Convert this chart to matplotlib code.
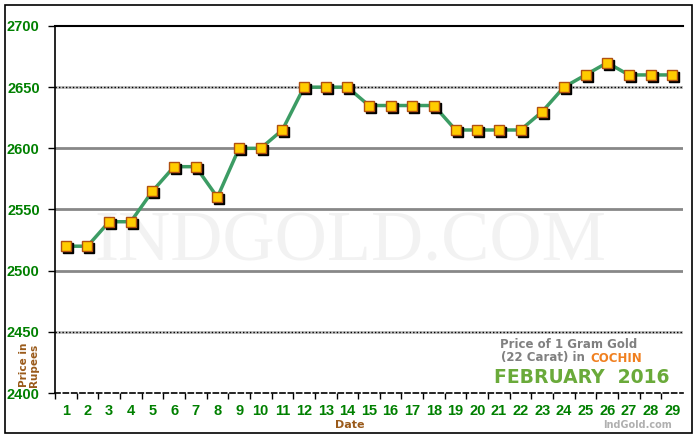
import matplotlib.pyplot as plt
import matplotlib.patches as patches
import matplotlib.transforms as mtransforms

# Dados: preço do ouro 22 quilates (Cochin), fevereiro 2016
days = list(range(1, 30))
prices = [2520, 2520, 2540, 2540, 2565, 2585, 2585, 2560, 2600, 2600,
          2615, 2650, 2650, 2650, 2635, 2635, 2635, 2635, 2615, 2615,
          2615, 2615, 2630, 2650, 2660, 2670, 2660, 2660, 2660]
y_ticks = [2400, 2450, 2500, 2550, 2600, 2650, 2700]

GREEN_TXT = '#008000'
BROWN = '#9a5a1a'
TICK_FONT = 'Liberation Sans'

fig = plt.figure(figsize=(7, 4.4), dpi=100)
fig.patches.append(patches.Rectangle((5 / 700, 1 - 433 / 440), 687 / 700, 428 / 440,
                                     transform=fig.transFigure, fill=False,
                                     ec='black', lw=1.2))

ax = fig.add_axes([55 / 700, 1 - 393 / 440, 628 / 700, 367 / 440])
ax.set_xlim(0.5, 29.5)
ax.set_ylim(2400, 2700)

# Marca d'água (atrás de tudo)
ax.text(350 / 700, 1 - 243 / 440, 'INDGOLD.COM', ha='center', va='center',
        fontsize=52, family='Liberation Serif', color='#f2f2f2', zorder=0.5,
        transform=fig.transFigure)

# Linhas de grade
for v in [2500, 2550, 2600]:
    ax.axhline(v, color='#888888', lw=2, zorder=1)
for v in [2450, 2650]:
    ax.axhline(v, color='#c0c0c0', lw=2, zorder=1)
    ax.axhline(v, color='black', lw=1, ls=(0, (1, 1.5)), zorder=1.1)

ax.spines['right'].set_visible(False)
ax.spines['top'].set_linewidth(1.5)
ax.spines['left'].set_linewidth(1.2)
ax.spines['bottom'].set_linestyle((0, (3, 2)))
ax.spines['bottom'].set_linewidth(1.2)

# Linha e marcadores (com sombra)
ax.plot(days, prices, color='#3c9c64', lw=2.5, zorder=3)
shadow = mtransforms.offset_copy(ax.transData, fig=fig, x=2, y=-2, units='dots')
ax.plot(days, prices, ls='none', marker='s', ms=6.5, color='black',
        transform=shadow, zorder=4)
ax.plot(days, prices, ls='none', marker='s', ms=6.5, mfc='#ffcc00',
        mec='#b05010', mew=1, zorder=5)

# Eixos
ax.set_yticks(y_ticks)
ax.set_yticklabels([str(v) for v in y_ticks], color=GREEN_TXT,
                   fontweight='bold', fontsize=10.5, family=TICK_FONT)
ax.tick_params(axis='y', length=5, width=1, pad=6)
ax.set_xticks([d + 0.5 for d in days[:-1]] + [0.5])
ax.set_xticklabels([])
ax.tick_params(axis='x', length=4, width=1)
lbl_tr = mtransforms.offset_copy(ax.transData, fig=fig, x=0, y=-11, units='dots')
for d in days:
    ax.text(d, 2400, str(d), transform=lbl_tr, ha='center', va='top',
            color=GREEN_TXT, fontweight='bold', fontsize=10.5, family=TICK_FONT,
            clip_on=False)

fig.text(350 / 700, 1 - 425 / 440, 'Date', ha='center', va='center',
         color=BROWN, fontweight='bold', fontsize=8)
fig.text(29 / 700, 1 - 365 / 440, 'Price in\nRupees', ha='center', va='center',
         rotation=90, color=BROWN, fontweight='bold', fontsize=7.5,
         linespacing=1.1)

# Caixa de legenda
ax.add_patch(patches.Rectangle((20.0, 2401), 9.45, 47, fc='white',
                               ec='none', zorder=6))
fig.text(569 / 700, 1 - 344 / 440, 'Price of 1 Gram Gold', ha='center',
         va='center', color='#808080', fontweight='bold', fontsize=8.5, zorder=7)
fig.text(589 / 700, 1 - 358 / 440, '(22 Carat) in ', ha='right', va='center',
         color='#808080', fontweight='bold', fontsize=8.5, zorder=7)
fig.text(590 / 700, 1 - 358 / 440, 'COCHIN', ha='left', va='center',
         color='#f08020', fontweight='bold', fontsize=8.5, zorder=7)
fig.text(582 / 700, 1 - 377 / 440, 'FEBRUARY  2016', ha='center', va='center',
         color='#6aaa3a', fontweight='bold', fontsize=13.5, zorder=7)
fig.text(638 / 700, 1 - 425 / 440, 'IndGold.com', ha='center', va='center',
         color='#b0b0b0', fontweight='bold', fontsize=7)

fig.savefig('out.png', dpi=100)
